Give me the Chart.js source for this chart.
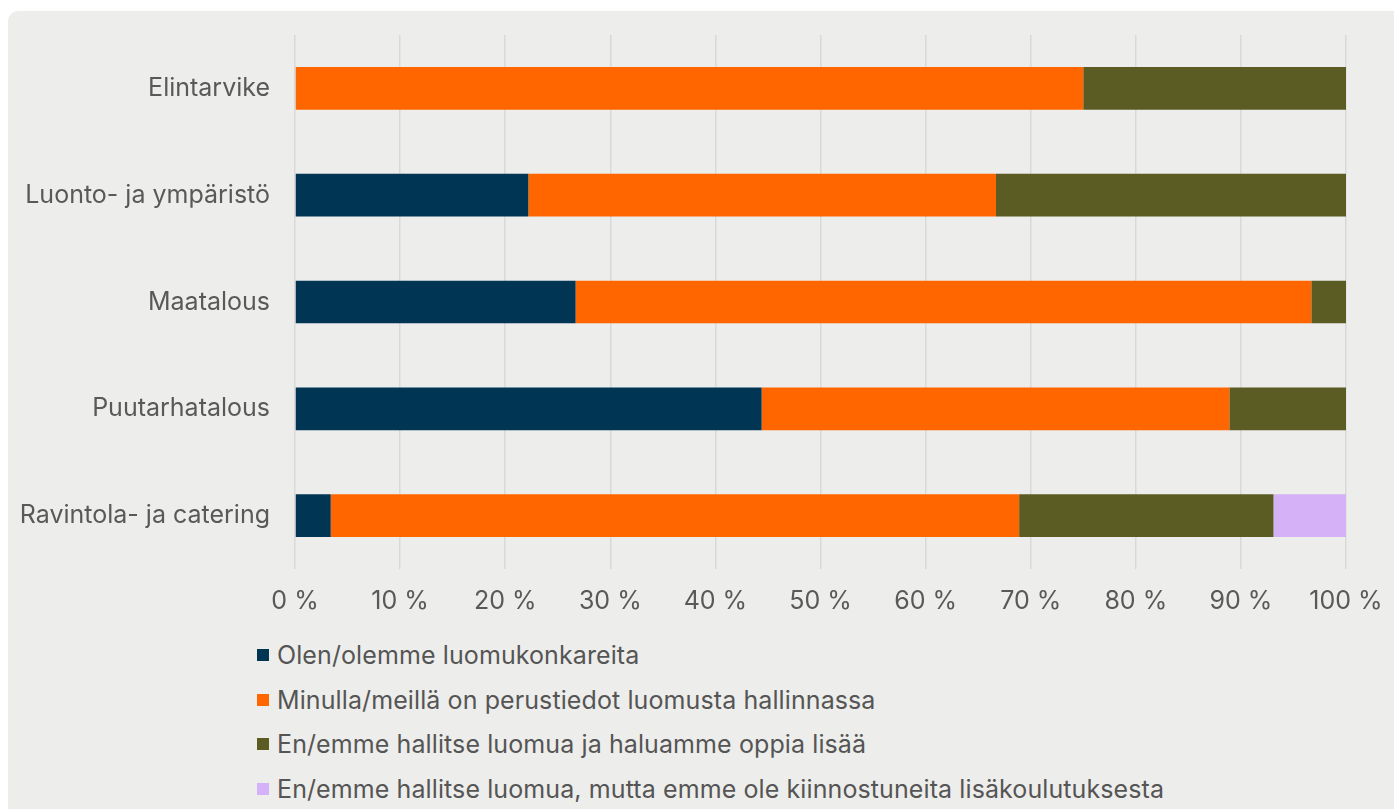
<!DOCTYPE html>
<html>
<head>
<meta charset="utf-8">
<script src="https://cdn.jsdelivr.net/npm/chart.js@4/dist/chart.umd.min.js"></script>
<style>
  html, body { margin: 0; background: #ffffff; font-family: Inter, "Noto Sans", sans-serif; overflow: hidden; }
  #card { position: absolute; left: 8px; top: 11px; width: 1386px; height: 798px; background: #ededeb; border-radius: 10px 0 0 0; }
  #wrap { position: absolute; left: 0; top: 0; width: 1394px; height: 625px; }
  #legend { position: absolute; left: 257px; top: 633px; }
  .item { display: flex; align-items: center; height: 44.5px; font-size: 25px; color: #555555; letter-spacing: 0.1px; }
  .box { width: 12px; height: 12px; margin-right: 8px; }
</style>
</head>
<body>
<div id="card"></div>
<div id="wrap"><canvas id="chart"></canvas></div>
<div id="legend"></div>
<script>
// categories and series (% share)
const categories = ['Elintarvike', 'Luonto- ja ympäristö', 'Maatalous', 'Puutarhatalous', 'Ravintola- ja catering']
const seriesNames = [
  'Olen/olemme luomukonkareita',
  'Minulla/meillä on perustiedot luomusta hallinnassa',
  'En/emme hallitse luomua ja haluamme oppia lisää',
  'En/emme hallitse luomua, mutta emme ole kiinnostuneita lisäkoulutuksesta'
]
const veterans = [0, 22.2, 26.7, 44.4, 3.4]
const basics = [75, 44.5, 70, 44.5, 65.5]
const wantToLearn = [25, 33.3, 3.3, 11.1, 24.2]
const notInterested = [0, 0, 0, 0, 6.9]
const colors = ['#003653', '#ff6600', '#5a5c24', '#d5b1f8']

const xTicks = [0, 10, 20, 30, 40, 50, 60, 70, 80, 90, 100]

const seriesValues = [veterans, basics, wantToLearn, notInterested]
const datasets = seriesValues.map((vals, i) => ({
  label: seriesNames[i],
  data: vals,
  backgroundColor: colors[i],
  barPercentage: 0.4,
  categoryPercentage: 1
}))

const ctx = document.getElementById('chart').getContext('2d')
const chart = new Chart(ctx, {
  type: 'bar',
  data: { labels: categories, datasets: datasets },
  options: {
    indexAxis: 'y',
    responsive: true,
    maintainAspectRatio: false,
    animation: false,
    layout: { padding: { top: 35, right: 48, left: 0, bottom: 0 } },
    plugins: { legend: { display: false }, tooltip: { enabled: false } },
    scales: {
      x: {
        stacked: true,
        min: 0,
        max: 100,
        afterBuildTicks: scale => { scale.ticks = xTicks.map(v => ({ value: v })) },
        afterFit: scale => {
          scale.height = 56
          scale.paddingLeft = 0
          scale.paddingRight = 0
        },
        grid: { color: '#d9d9d9', lineWidth: 1.5, drawTicks: false },
        border: { display: false },
        ticks: {
          padding: 17,
          color: '#595959',
          font: { family: 'Inter', size: 25 },
          maxRotation: 0,
          callback: v => v + ' %'
        }
      },
      y: {
        stacked: true,
        afterFit: scale => {
          scale.width = 295
          scale.paddingTop = 0
          scale.paddingBottom = 0
        },
        grid: { display: false, drawTicks: false },
        border: { display: false },
        ticks: {
          padding: 25,
          color: '#595959',
          font: { family: 'Inter', size: 25 }
        }
      }
    }
  }
})

// legend, one item per row
const legend = document.getElementById('legend')
chart.data.datasets.forEach(ds => {
  const row = document.createElement('div')
  row.className = 'item'
  const box = document.createElement('span')
  box.className = 'box'
  box.style.background = ds.backgroundColor
  row.appendChild(box)
  row.appendChild(document.createTextNode(ds.label))
  legend.appendChild(row)
})
</script>
</body>
</html>
